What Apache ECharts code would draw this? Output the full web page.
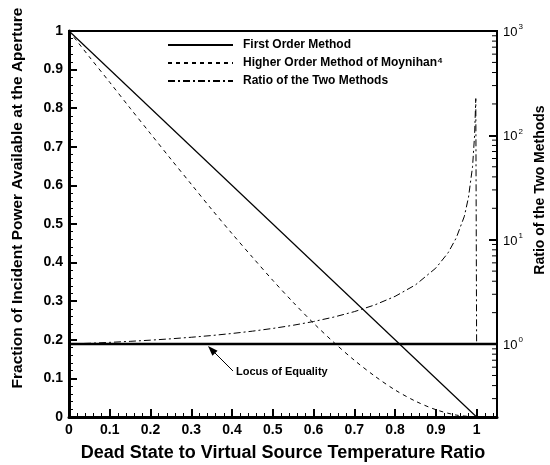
<!DOCTYPE html>
<html><head><meta charset="utf-8">
<script src="https://cdn.jsdelivr.net/npm/echarts@6/dist/echarts.min.js"></script>
<style>html,body{margin:0;padding:0;background:#fff}#c{width:550px;height:465px}</style>
</head><body><div id="c"></div>
<script>
// ---- data ----
const firstX = [0, 1];
const firstY = [1, 0];
const higherX = [0, 0.05, 0.1, 0.15, 0.2, 0.25, 0.3, 0.35, 0.4, 0.45, 0.5, 0.55, 0.6, 0.65, 0.7, 0.75, 0.8, 0.85, 0.9, 0.95, 1.0];
const higherY = [1, 0.933, 0.867, 0.800, 0.734, 0.668, 0.603, 0.538, 0.475, 0.414, 0.354, 0.297, 0.243, 0.193, 0.147, 0.106, 0.070, 0.041, 0.019, 0.005, 0];
const ratioX = [0, 0.05, 0.1, 0.15, 0.2, 0.25, 0.3, 0.35, 0.4, 0.45, 0.5, 0.55, 0.6, 0.65, 0.7, 0.75, 0.8, 0.85, 0.9, 0.93, 0.95, 0.97, 0.98, 0.99, 0.995, 0.9975, 0.998, 1.0, 1.0];
const ratioY = [1, 1.018, 1.038, 1.062, 1.09, 1.123, 1.162, 1.207, 1.263, 1.329, 1.412, 1.514, 1.645, 1.815, 2.045, 2.37, 2.865, 3.69, 5.35, 7.49, 10.4, 16.8, 25.4, 50, 100, 200, 225, 225, 1];
const locusX = [0, 1.05];
const locusY = [1, 1];
const rightMinorTicks = [0.3, 0.4, 0.5, 0.6, 0.7, 0.8, 0.9, 2, 3, 4, 5, 6, 7, 8, 9, 20, 30, 40, 50, 60, 70, 80, 90, 200, 300, 400, 500, 600, 700, 800, 900];
const legendNames = ['First Order Method', 'Higher Order Method of Moynihan\u2074', 'Ratio of the Two Methods'];

const zip = (xs, ys) => xs.map((x, i) => [x, ys[i]]);
const FONT = 'Liberation Sans';
const chart = echarts.init(document.getElementById('c'));
const powers = {1: '0', 10: '1', 100: '2', 1000: '3'};

chart.setOption({
  animation: false,
  backgroundColor: '#fff',
  grid: {left: 69, right: 53, top: 31, bottom: 48, show: true, borderColor: '#000', borderWidth: 2},
  legend: {
    data: legendNames,
    orient: 'vertical', left: 162, top: 34,
    itemWidth: 65, itemHeight: 12, itemGap: 6,
    itemStyle: {opacity: 0},
    textStyle: {fontFamily: FONT, fontWeight: 'bold', fontSize: 12, color: '#000', padding: [0, 0, 0, 5]},
    inactiveColor: '#000'
  },
  xAxis: {
    type: 'value', min: 0, max: 1.05, interval: 0.1,
    axisLine: {lineStyle: {color: '#000', width: 3}},
    axisTick: {inside: true, length: 8, lineStyle: {color: '#000', width: 2}},
    minorTick: {show: true, splitNumber: 5, length: 4, lineStyle: {color: '#000', width: 1}},
    splitLine: {show: false},
    axisLabel: {
      margin: 6, color: '#000', fontFamily: FONT, fontWeight: 'bold', fontSize: 14,
      formatter: v => (Math.abs(v * 10 - Math.round(v * 10)) < 1e-6 ? String(Math.round(v * 10) / 10) : '')
    }
  },
  yAxis: [{
    type: 'value', min: 0, max: 1, interval: 0.1, position: 'left',
    axisLine: {lineStyle: {color: '#000', width: 3}},
    axisTick: {inside: true, length: 8, lineStyle: {color: '#000', width: 2}},
    minorTick: {show: true, splitNumber: 5, length: 4, lineStyle: {color: '#000', width: 1}},
    splitLine: {show: false},
    axisLabel: {margin: 6, color: '#000', fontFamily: FONT, fontWeight: 'bold', fontSize: 14}
  }, {
    type: 'log', logBase: 10, min: 0.2, max: 1000, position: 'right',
    axisLine: {show: true, lineStyle: {color: '#000', width: 2}},
    axisTick: {inside: true, length: 8, lineStyle: {color: '#000', width: 2}},
    splitLine: {show: false},
    axisLabel: {
      margin: 6, color: '#000', fontFamily: FONT,
      formatter: v => {
        const k = Object.keys(powers).find(p => Math.abs(p - v) / p < 1e-6);
        return k ? '{b|10}{s|' + powers[k] + '}' : '';
      },
      rich: {
        b: {fontFamily: FONT, fontSize: 13, color: '#000', verticalAlign: 'bottom'},
        s: {fontFamily: FONT, fontSize: 8, color: '#000', verticalAlign: 'top', padding: [0, 0, 8, 1]}
      }
    }
  }],
  series: [
    {name: legendNames[0], type: 'line', symbol: 'none', data: zip(firstX, firstY),
     lineStyle: {color: '#000', width: 1.2, type: 'solid'}, itemStyle: {color: '#000'}},
    {name: legendNames[1], type: 'line', symbol: 'none', data: zip(higherX, higherY), smooth: 0.3,
     lineStyle: {color: '#000', width: 1, type: [4, 4]}, itemStyle: {color: '#000'}},
    {name: legendNames[2], type: 'line', symbol: 'none', yAxisIndex: 1, data: zip(ratioX, ratioY),
     lineStyle: {color: '#000', width: 1, type: [7, 3, 2, 3]}, itemStyle: {color: '#000'}},
    {name: 'Locus', type: 'line', symbol: 'none', yAxisIndex: 1, data: zip(locusX, locusY),
     lineStyle: {color: '#000', width: 2.5}, itemStyle: {color: '#000'}, z: 3},
    {name: 'minor', type: 'custom', yAxisIndex: 1, silent: true, clip: false,
     data: rightMinorTicks.map(v => [1.05, v]),
     renderItem: (params, api) => {
       const p = api.coord([api.value(0), api.value(1)]);
       return {type: 'line', shape: {x1: p[0], y1: p[1], x2: p[0] - 5, y2: p[1]},
               style: {stroke: '#000', lineWidth: 1}};
     }}
  ],
  graphic: [
    {type: 'text', rotation: Math.PI / 2, x: 18, y: 198,
     style: {text: 'Fraction of Incident Power Available at the Aperture', fontFamily: FONT, fontWeight: 'bold', fontSize: 15.5, fill: '#000', textAlign: 'center', textVerticalAlign: 'middle'}},
    {type: 'text', rotation: Math.PI / 2, x: 540, y: 190,
     style: {text: 'Ratio of the Two Methods', fontFamily: FONT, fontWeight: 'bold', fontSize: 14, fill: '#000', textAlign: 'center', textVerticalAlign: 'middle'}},
    {type: 'text', x: 283, y: 453,
     style: {text: 'Dead State to Virtual Source Temperature Ratio', fontFamily: FONT, fontWeight: 'bold', fontSize: 18, fill: '#000', textAlign: 'center', textVerticalAlign: 'middle'}},
    {type: 'text', x: 236, y: 372,
     style: {text: 'Locus of Equality', fontFamily: FONT, fontWeight: 'bold', fontSize: 11, fill: '#000', textAlign: 'left', textVerticalAlign: 'middle'}},
    {type: 'line', shape: {x1: 233, y1: 371, x2: 213, y2: 351}, style: {stroke: '#000', lineWidth: 1}},
    {type: 'polygon', shape: {points: [[208, 346], [217.6, 350.8], [212.4, 355.8]]}, style: {fill: '#000'}}
  ]
});
</script></body></html>
